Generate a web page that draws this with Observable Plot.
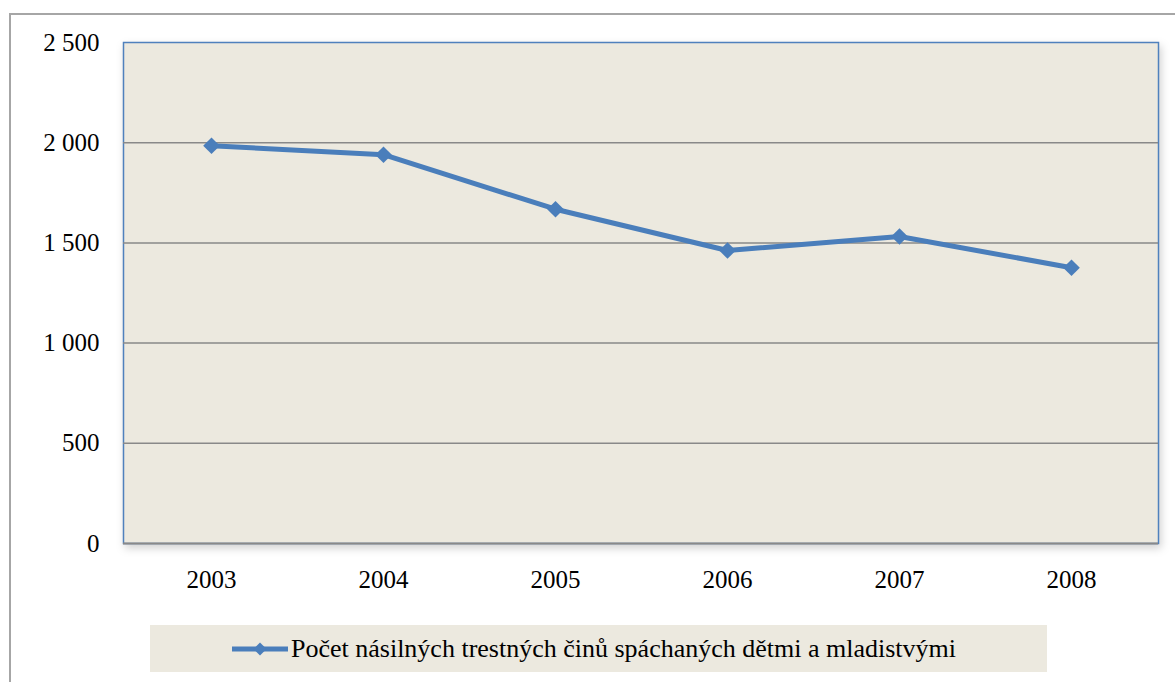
<!DOCTYPE html>
<html>
<head>
<meta charset="utf-8">
<script src="https://cdn.jsdelivr.net/npm/d3@7"></script>
<script src="https://cdn.jsdelivr.net/npm/@observablehq/plot@0.6"></script>
<style>
  html, body { margin: 0; padding: 0; background: white; overflow: hidden; }
  body { width: 1175px; height: 682px; position: relative; font-family: "Liberation Serif", "Times New Roman", Tinos, "DejaVu Serif", serif; }
  #outer { position: absolute; left: 9px; top: 13px; width: 1200px; height: 700px; border-left: 2px solid #A6A6A6; border-top: 2px solid #A6A6A6; box-sizing: border-box; }
  #chart { position: absolute; left: 0; top: 0; }
  #chart svg, #chart svg text { font-family: "Liberation Serif", "Times New Roman", Tinos, "DejaVu Serif", serif !important; }
  #legend { position: absolute; left: 150px; top: 625px; width: 897px; height: 47px; background: #ECE9DF; display: flex; align-items: center; }
  #legend svg { margin-left: 82px; }
  #legend span { font-size: 26px; color: black; margin-left: 3px; white-space: nowrap; }
</style>
</head>
<body>
<div id="outer"></div>
<div id="chart"></div>
<div id="legend"></div>
<script>
const years = ["2003", "2004", "2005", "2006", "2007", "2008"];
const counts = [1985, 1940, 1668, 1462, 1532, 1376];
const yTicks = [0, 500, 1000, 1500, 2000, 2500];
const gridValues = [500, 1000, 1500, 2000];
const seriesName = "Počet násilných trestných činů spáchaných dětmi a mladistvými";

const data = years.map((year, i) => ({year, count: counts[i]}));
const fmt = d => d3.format(",")(d).replace(/,/g, " ");
const blue = "#4A7EBB";
const serif = "'Liberation Serif', 'Times New Roman', Tinos, 'DejaVu Serif', serif";

const chart = Plot.plot({
  width: 1175,
  height: 615,
  marginLeft: 123,
  marginTop: 42,
  marginRight: 17,
  marginBottom: 72,
  style: {fontFamily: serif, fontSize: "25px", color: "black", background: "transparent", overflow: "visible"},
  x: {type: "point", domain: years, padding: 0.5, label: null},
  y: {domain: [0, 2500], label: null},
  marks: [
    Plot.frame({fill: "#ECE9DF", stroke: "#4F81BD", strokeWidth: 1.5}),
    Plot.ruleY(gridValues, {stroke: "#898989", strokeWidth: 1.5}),
    Plot.ruleY([0], {stroke: "#898989", strokeWidth: 2}),
    Plot.axisY({ticks: yTicks, tickSize: 0, tickPadding: 24, tickFormat: fmt, label: null}),
    Plot.axisX({tickSize: 0, tickPadding: 27, label: null}),
    Plot.line(data, {x: "year", y: "count", stroke: blue, strokeWidth: 5}),
    Plot.dot(data, {x: "year", y: "count", symbol: "diamond2", r: 7.5, fill: blue, stroke: "none"})
  ]
});
d3.select(chart).select("[aria-label=frame]").style("filter", "drop-shadow(2px 4px 4px rgba(0,0,0,0.18))");
document.getElementById("chart").appendChild(chart);

// legend
const lg = d3.select("#legend");
const ls = lg.append("svg").attr("width", 56).attr("height", 20);
ls.append("line").attr("x1", 0).attr("x2", 56).attr("y1", 10).attr("y2", 10).attr("stroke", blue).attr("stroke-width", 5);
ls.append("path").attr("d", d3.symbol(d3.symbolDiamond2, 110)()).attr("transform", "translate(28,10)").attr("fill", blue);
lg.append("span").text(seriesName);
</script>
</body>
</html>
